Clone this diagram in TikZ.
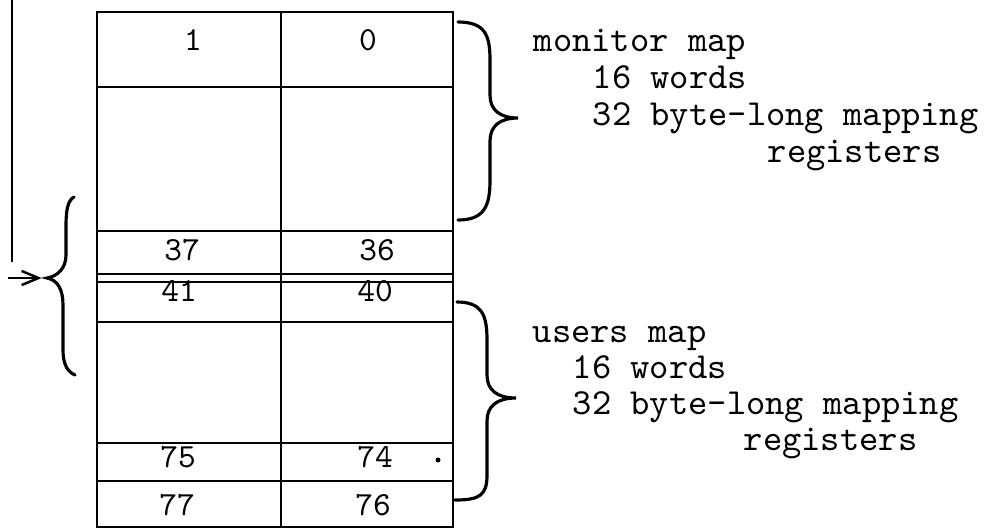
\documentclass[tikz,border=0pt]{standalone}
\usepackage{fontspec}
\usetikzlibrary{arrows.meta}
\begin{document}
\begin{tikzpicture}[x=0.01cm,y=-0.01cm,
  cellnum/.style={font=\ttfamily\fontsize{9.6}{10}\selectfont,inner sep=0pt},
  remark/.style={font=\ttfamily\fontsize{10.45}{12}\selectfont,anchor=base west,inner sep=0pt},
  curly/.style={line width=0.9pt,line cap=round}]
\useasboundingbox (0,0) rectangle (1000,529);
% map words
\draw[thin] (97,12) rectangle (453,527);
\draw[thin] (281,12) -- (281,527);
\foreach \y in {87,231,274,282,322,443,481}
  \draw[thin] (97,\y) -- (453,\y);
\node[cellnum] (w1) at (193,40) {1};
\node[cellnum] (w0) at (368,40) {0};
\node[cellnum] (w37) at (182,250) {37};
\node[cellnum] (w36) at (377,250) {36};
\node[cellnum] (w41) at (179,291) {41};
\node[cellnum] (w40) at (375,291) {40};
\node[cellnum] (w75) at (178,457) {75};
\node[cellnum] (w74) at (375,457) {74};
\node[cellnum] (w77) at (177,505) {77};
\node[cellnum] (w76) at (373,505) {76};
\fill (438,460) circle (2.5);
% braces
\draw[curly] (458,22) .. controls (485,22) and (490,35) .. (490,60) -- (490,95)
  .. controls (490,110) and (500,118) .. (518,118)
  .. controls (500,118) and (490,126) .. (490,141) -- (490,180)
  .. controls (490,205) and (485,220) .. (458,220);
\draw[curly] (457,302) .. controls (482,302) and (487,315) .. (487,340) -- (487,375)
  .. controls (487,390) and (497,398) .. (516,398)
  .. controls (497,398) and (487,406) .. (487,421) -- (487,475)
  .. controls (487,495) and (480,500) .. (455,500);
\coordinate (ltip) at (47,278);
\draw[curly] (74,197) .. controls (68,200) and (66,210) .. (66,225) -- (66,255)
  .. controls (66,268) and (58,276) .. (ltip)
  .. controls (58,280) and (63,290) .. (63,305) -- (63,350)
  .. controls (63,365) and (68,372) .. (75,375);
% pointer from above
\coordinate (ptop) at (12,0);
\coordinate (pbot) at (12,262);
\coordinate (pstart) at (8,278);
\draw[line width=0.7pt] (ptop) -- (pbot);
\draw[-{Straight Barb[length=4.8pt,width=4pt]},line width=0.7pt,shorten >=1.5pt] (pstart) -- (ltip);
% notes
\node[remark] (mon) at (533,51) {monitor map};
\node[remark] (monw) at (592,88) {16 words};
\node[remark] (monr) at (592,125) {32 byte-long mapping};
\node[remark] (monr2) at (767,162) {registers};
\node[remark] (usr) at (532,342) {users map};
\node[remark] (usrw) at (572,378) {16 words};
\node[remark] (usrr) at (572,414) {32 byte-long mapping};
\node[remark] (usrr2) at (743,450) {registers};
\end{tikzpicture}
\end{document}
